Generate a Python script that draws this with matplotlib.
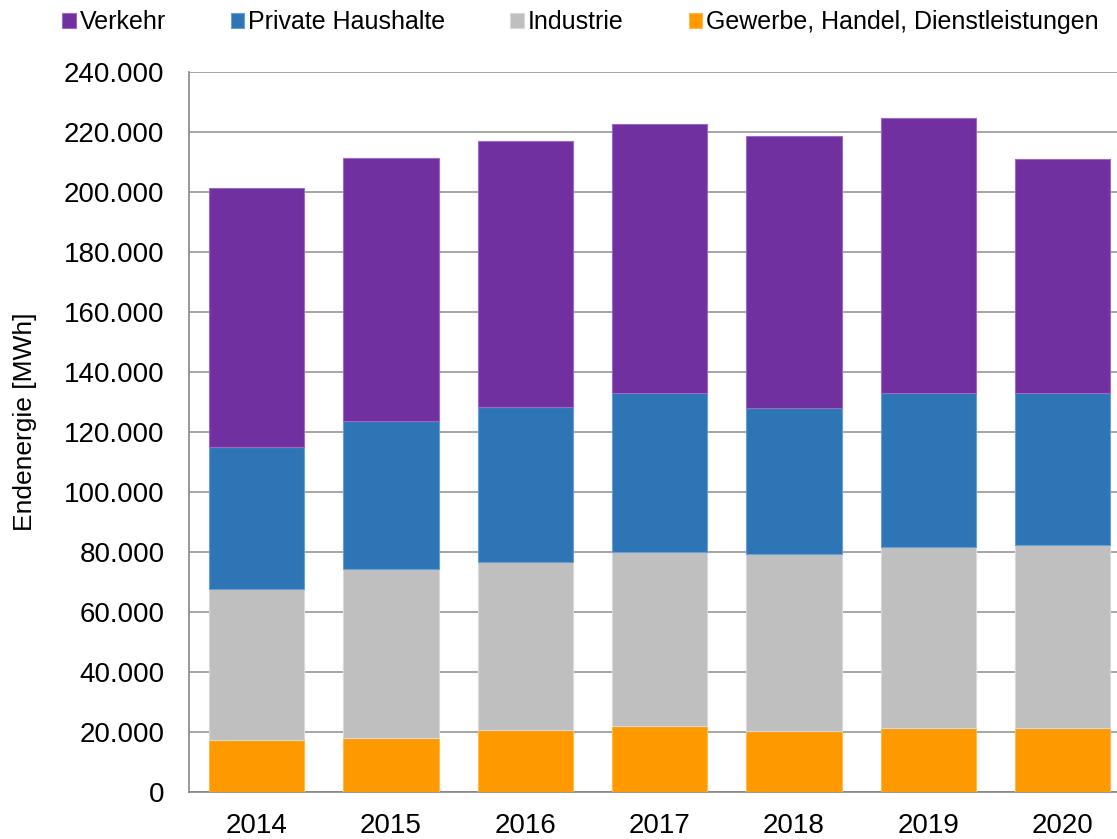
import matplotlib.pyplot as plt
from matplotlib.ticker import FuncFormatter

plt.rcParams['font.family'] = ['Liberation Sans', 'DejaVu Sans']

years = ['2014', '2015', '2016', '2017', '2018', '2019', '2020']
# Endenergie in MWh
gewerbe = [17400, 18200, 20800, 22200, 20400, 21400, 21400]
industrie = [50400, 56200, 56100, 58000, 58900, 60300, 60900]
haushalte = [47200, 49400, 51400, 52800, 48700, 51300, 50700]
verkehr = [86400, 87500, 88700, 89700, 90800, 91700, 78000]

series = [
    ('Gewerbe, Handel, Dienstleistungen', gewerbe, '#FF9900', '#FFB84D'),
    ('Industrie', industrie, '#BFBFBF', '#D9D9D9'),
    ('Private Haushalte', haushalte, '#2E75B6', '#6A9FD4'),
    ('Verkehr', verkehr, '#7030A0', '#9B6BC4'),
]

fig = plt.figure(figsize=(11.17, 8.39), dpi=100)
ax = fig.add_axes([0.1696, 0.0557, 0.842, 0.8582])

x = list(range(len(years)))
bottom = [0] * len(years)
handles = {}
for name, vals, col, edge in series:
    b = ax.bar(x, vals, width=0.71, bottom=bottom, color=col,
               edgecolor=edge, linewidth=0.8, zorder=3, label=name)
    handles[name] = b
    bottom = [bo + v for bo, v in zip(bottom, vals)]

ax.set_xlim(-0.5, 6.5)
ax.set_ylim(0, 240000)
ax.set_yticks(range(0, 240001, 20000))
ax.yaxis.set_major_formatter(FuncFormatter(lambda v, p: f'{int(v):,}'.replace(',', '.')))
ax.set_xticks(x)
ax.set_xticklabels(years)
ax.tick_params(axis='both', length=0, labelsize=20, colors='black')
ax.tick_params(axis='y', pad=18)
ax.tick_params(axis='x', pad=15)

ax.grid(axis='y', color='#A6A6A6', linewidth=1.4, zorder=0)
for s in ['top', 'right']:
    ax.spines[s].set_visible(False)
for s in ['left', 'bottom']:
    ax.spines[s].set_color('#868686')
    ax.spines[s].set_linewidth(1.2)

ax.set_ylabel('Endenergie [MWh]', fontsize=19)
ax.yaxis.set_label_coords(-0.162, 0.515)

order = ['Verkehr', 'Private Haushalte', 'Industrie', 'Gewerbe, Handel, Dienstleistungen']
fig.legend([handles[n] for n in order], order, ncol=4, frameon=False,
           loc='upper left', bbox_to_anchor=(0.0465, 1.0), fontsize=18,
           handlelength=0.55, handleheight=0.55, handletextpad=0.15,
           columnspacing=2.6, borderaxespad=0.0)

fig.savefig('out.png', dpi=100)
